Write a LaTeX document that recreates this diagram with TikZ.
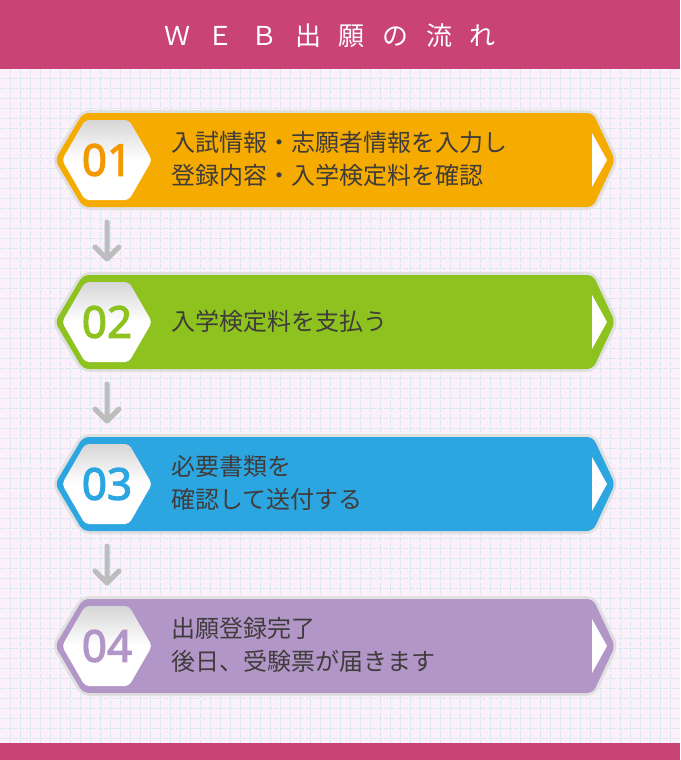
\documentclass[tikz,border=0pt]{standalone}
\usepackage{fontspec}
\setmainfont{Noto Sans CJK JP}
\newfontfamily\numfont[FakeBold=2.5]{Noto Sans}
\newfontfamily\titlefont[LetterSpace=68]{Noto Sans CJK JP}
\usetikzlibrary{arrows.meta,calc,positioning}

\definecolor{headpink}{HTML}{C94374}
\definecolor{bgpink}{HTML}{FCF0FB}
\definecolor{gridblue}{HTML}{D9E8F1}
\definecolor{textgray}{HTML}{403C3B}
\definecolor{stepA}{HTML}{F6AB00}
\definecolor{numA}{HTML}{F39800}
\definecolor{stepB}{HTML}{8DC21F}
\definecolor{stepC}{HTML}{2CA6E0}
\definecolor{stepD}{HTML}{B196C7}
\definecolor{arrowgray}{HTML}{BDBDBD}

\begin{document}
\begin{tikzpicture}[x=1pt, y=-1pt,
  gridline/.style={gridblue, line width=0.5pt, dash pattern=on 5pt off 1.5pt},
  stepframe/.style={line width=6pt, draw=black!12, line join=round, rounded corners=7pt},
  numtext/.style={font=\numfont\fontsize{44}{44}\selectfont},
  steptext/.style={font=\fontsize{24}{33}\selectfont, text=textgray, align=left, anchor=west},
  downarrow/.style={arrowgray, line width=5pt, line cap=round, line join=round}]
  \useasboundingbox (0,0) rectangle (680,760);

  % Draw background grid
  \fill[bgpink] (0,69) rectangle (680,743);
  \foreach \g in {10,20,...,670}
      \draw[gridline] (\g,69) -- (\g,743);
  \foreach \g in {78,88,...,738}
      \draw[gridline] (0,\g) -- (680,\g);

  % Header and footer bars
  \fill[headpink] (0,0) rectangle (680,69);
  \fill[headpink] (0,743) rectangle (680,760);
  \node[text=white, font=\titlefont\fontsize{26}{26}\selectfont] (title) at (330,36) {ＷＥＢ出願の流れ};

  % Draw steps
  \foreach \i/\c/\col/\numcol/\txt in {
      1/160/stepA/numA/{入試情報・志願者情報を入力し\\登録内容・入学検定料を確認},
      2/322/stepB/stepB/{入学検定料を支払う},
      3/484/stepC/stepC/{必要書類を\\確認して送付する},
      4/646/stepD/stepD/{出願登録完了\\後日、受験票が届きます}} {
    \draw[stepframe] (55,\c) -- (83,\c-47) -- (593,\c-47) -- (615,\c) -- (593,\c+47) -- (83,\c+47) -- cycle;
    \fill[\col, rounded corners=6pt] (55,\c) -- (83,\c-47) -- (593,\c-47) -- (615,\c) -- (593,\c+47) -- (83,\c+47) -- cycle;
    \shade[top color=black!16, bottom color=white, middle color=white, rounded corners=4pt]
      (62,\c) -- (85,\c-40) -- (129,\c-40) -- (152,\c) -- (129,\c+40) -- (85,\c+40) -- cycle;
    \fill[white] (592,\c-27) -- (607,\c) -- (592,\c+27) -- cycle;
    \node[numtext, text=\numcol] (num\i) at (107,\c) {0\i};
    \node[steptext] (txt\i) at (168,\c-1) {\txt};
  }

  % Draw arrows between steps
  \foreach \i/\c in {1/160, 2/322, 3/484} {
    \coordinate (arrtop\i) at (107,\c+62);
    \coordinate (arrend\i) at (107,\c+99);
    \draw[downarrow] (arrtop\i) -- (arrend\i) ++(-12,-12) -- (arrend\i) -- ++(12,-12);
  }
\end{tikzpicture}
\end{document}
